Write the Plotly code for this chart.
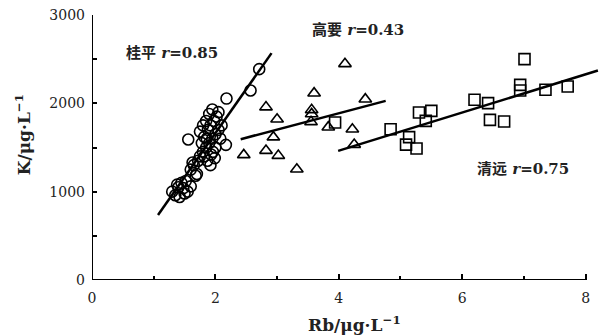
import plotly.graph_objects as go

# Guiping (circles)
gp_rb = [1.30, 1.35, 1.40, 1.45, 1.50, 1.52, 1.55, 1.42, 1.60, 1.38, 1.48,
         1.60, 1.65, 1.70, 1.72, 1.68, 1.75, 1.63,
         1.56, 2.17, 1.80, 1.85, 1.90, 1.95, 2.00, 1.82, 1.88, 1.92, 1.98, 2.02,
         1.85, 1.90, 1.95, 2.05, 2.10, 2.05, 1.78, 1.82, 1.87, 1.92, 1.96, 2.00,
         1.75, 1.80, 2.08, 1.93, 1.86, 1.99,
         2.18, 2.57, 2.71]
gp_k = [1000, 960, 1050, 1100, 980, 1120, 1000, 940, 1060, 1080, 1040,
        1250, 1300, 1200, 1350, 1180, 1400, 1330,
        1590, 1530, 1450, 1500, 1550, 1600, 1650, 1620, 1700, 1750, 1800, 1850,
        1800, 1880, 1930, 1900, 1750, 1700, 1550, 1400, 1350, 1300, 1450, 1500,
        1680, 1750, 1600, 1420, 1600, 1380,
        2054, 2145, 2387]

# Gaoyao (triangles)
gy_rb = [4.10, 3.60, 4.43, 2.82, 3.00, 3.56, 3.56, 3.55, 3.83, 4.22, 2.94,
         4.25, 2.46, 2.82, 3.02, 3.32]
gy_k = [2447, 2115, 2047, 1957, 1820, 1926, 1880, 1790, 1730, 1707, 1617,
        1533, 1416, 1465, 1408, 1254]

# Qingyuan (squares)
qy_rb = [3.94, 4.84, 5.14, 5.09, 5.26, 5.30, 5.50, 5.41, 6.20, 6.42, 6.45,
         6.68, 7.01, 6.94, 6.94, 7.35, 7.71]
qy_k = [1783, 1707, 1617, 1533, 1488, 1896, 1915, 1801, 2040, 2002, 1813,
        1794, 2500, 2209, 2145, 2153, 2190]

# Linear fits: slope, intercept, x-span
fits = {
    "gp": (996, -330, 1.07, 2.91),
    "gy": (184.7, 1149, 2.41, 4.76),
    "qy": (216, 600, 3.99, 8.20),
}

labels = [
    ("<b>桂平 <i>r</i>=0.85</b>", 1.30, 2572),
    ("<b>高要 <i>r</i>=0.43</b>", 4.31, 2833),
    ("<b>清远 <i>r</i>=0.75</b>", 6.98, 1258),
]

fig = go.Figure()

mk = dict(color="black", size=11, line=dict(color="black", width=1.6))
for xs, ys, sym in [(gp_rb, gp_k, "circle-open"),
                    (gy_rb, gy_k, "triangle-up-open"),
                    (qy_rb, qy_k, "square-open")]:
    fig.add_trace(go.Scatter(x=xs, y=ys, mode="markers",
                             marker=dict(symbol=sym, **mk),
                             showlegend=False, cliponaxis=False))

for slope, icpt, x0, x1 in fits.values():
    fig.add_trace(go.Scatter(x=[x0, x1], y=[slope * x0 + icpt, slope * x1 + icpt],
                             mode="lines", line=dict(color="black", width=2.5),
                             showlegend=False))

for txt, x, y in labels:
    fig.add_annotation(x=x, y=y, text=txt, showarrow=False,
                       font=dict(family="DejaVu Serif, Noto Sans CJK SC", size=15,
                                 color="#222"))

# axis lines (x axis line stops at 8)
fig.add_shape(type="line", xref="x", yref="y", x0=0, x1=8, y0=0, y1=0,
              line=dict(color="black", width=2))
fig.add_shape(type="line", xref="x", yref="y", x0=0, x1=0, y0=0, y1=3000,
              line=dict(color="black", width=2))

title_font = dict(family="DejaVu Serif", size=17, color="#222")
fig.add_annotation(xref="paper", yref="paper", x=0.516, y=-0.166,
                   xanchor="center", yanchor="middle",
                   text="<b>Rb/μg·L<sup>−1</sup></b>", showarrow=False,
                   font=title_font)
fig.add_annotation(xref="paper", yref="paper", x=-0.135, y=0.547,
                   xanchor="center", yanchor="middle", textangle=-90,
                   text="<b>K/μg·L<sup>−1</sup></b>", showarrow=False,
                   font=title_font)

fig.update_xaxes(range=[0, 8.25], tickmode="array", tickvals=[0, 2, 4, 6, 8],
                 ticks="inside", ticklen=6, tickwidth=2, tickcolor="black",
                 ticklabelstandoff=8,
                 minor=dict(tickvals=[1, 3, 5, 7], ticks="inside", ticklen=4,
                            tickwidth=2, tickcolor="black"),
                 showgrid=False, zeroline=False, showline=False)
fig.update_yaxes(range=[0, 3000], tickmode="array", tickvals=[0, 1000, 2000, 3000],
                 ticks="inside", ticklen=5, tickwidth=2, tickcolor="black",
                 ticklabelstandoff=6,
                 minor=dict(tickvals=[500, 1500, 2500], ticks="inside", ticklen=5,
                            tickwidth=2, tickcolor="black"),
                 showgrid=False, zeroline=False, showline=False)

fig.update_layout(width=608, height=335,
                  margin=dict(l=92, r=6.6, t=15, b=55),
                  plot_bgcolor="white", paper_bgcolor="white",
                  font=dict(family="DejaVu Serif", size=14, color="#222"))

fig.write_html("out.html")
